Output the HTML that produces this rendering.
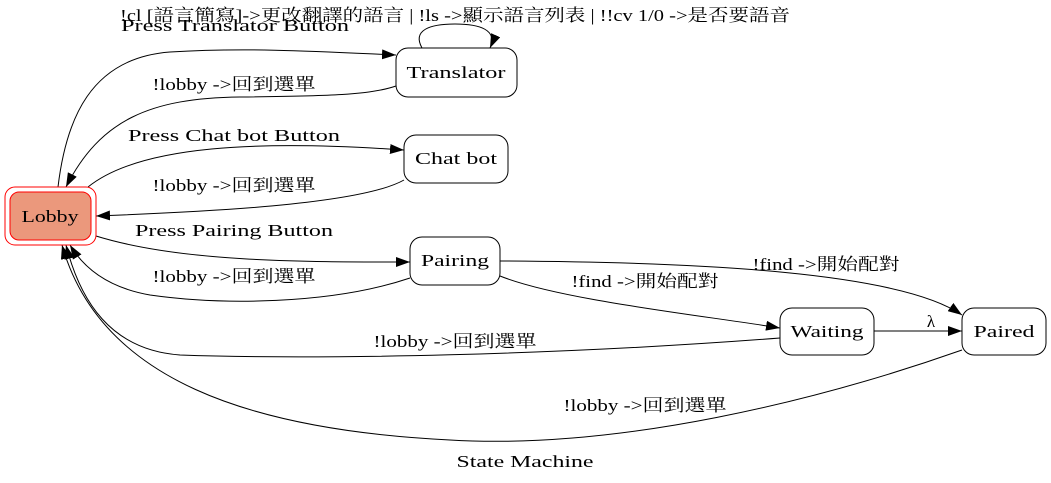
<!DOCTYPE html>
<html><head><meta charset="utf-8"><style>
html,body{margin:0;padding:0;background:#fff;}
svg{display:block;}
text{font-family:"Liberation Serif","Noto Serif CJK SC","Noto Sans CJK TC",serif;font-size:17px;fill:#000;}
</style></head><body>
<svg width="1051" height="483" viewBox="0 0 1051 483" xmlns="http://www.w3.org/2000/svg">
<defs>
<marker id="a" markerWidth="14" markerHeight="10" refX="14" refY="5" orient="auto" markerUnits="userSpaceOnUse">
<path d="M0,0 L14,5 L0,10 Z" fill="#000"/>
</marker>
</defs>
<g fill="none" stroke="#000" stroke-width="1">
<path d="M58,187 C66,120 90,58 170,52 C250,47 330,52 396,55" marker-end="url(#a)"/>
<path d="M422,48 C412,30 430,24 455,24 C480,24 498,30 490,48" marker-end="url(#a)"/>
<path d="M396,86 C370,95 330,96 240,97 C150,98 100,120 66,187" marker-end="url(#a)"/>
<path d="M88,187 C140,145 260,140 404,150" marker-end="url(#a)"/>
<path d="M404,180 C360,205 200,212 96,216" marker-end="url(#a)"/>
<path d="M96,236 C180,262 300,262 410,262" marker-end="url(#a)"/>
<path d="M410,278 C330,305 220,305 150,295 C110,288 85,270 70,245" marker-end="url(#a)"/>
<path d="M500,261 C700,262 900,272 962,315" marker-end="url(#a)"/>
<path d="M500,276 C560,300 700,315 780,328" marker-end="url(#a)"/>
<path d="M780,338 C560,355 320,360 180,355 C110,350 80,300 66,245" marker-end="url(#a)"/>
<path d="M874,331 L962,331" marker-end="url(#a)"/>
<path d="M962,350 C820,400 620,450 450,440 C250,430 100,380 62,245" marker-end="url(#a)"/>
</g>
<rect x="5" y="187" width="91" height="58" rx="10" fill="none" stroke="#ff0000"/>
<rect x="10" y="192" width="81" height="48" rx="9" fill="#eb987c" stroke="#ff0000"/>
<g fill="#fff" stroke="#000">
<rect x="396" y="48" width="121" height="49" rx="12"/>
<rect x="404" y="135" width="104" height="48" rx="12"/>
<rect x="410" y="237" width="90" height="48" rx="12"/>
<rect x="780" y="308" width="94" height="47" rx="12"/>
<rect x="962" y="308" width="84" height="47" rx="12"/>
</g>
<g text-anchor="middle">
<text x="50" y="222" textLength="57" lengthAdjust="spacingAndGlyphs">Lobby</text>
<text x="456" y="78" textLength="99" lengthAdjust="spacingAndGlyphs">Translator</text>
<text x="456" y="164" textLength="82" lengthAdjust="spacingAndGlyphs">Chat bot</text>
<text x="455" y="266" textLength="68" lengthAdjust="spacingAndGlyphs">Pairing</text>
<text x="827" y="337" textLength="73" lengthAdjust="spacingAndGlyphs">Waiting</text>
<text x="1004" y="337" textLength="61" lengthAdjust="spacingAndGlyphs">Paired</text>
<text x="455" y="21" textLength="670" lengthAdjust="spacingAndGlyphs">!cl [語言簡寫]->更改翻譯的語言 | !ls ->顯示語言列表 | !!cv 1/0 ->是否要語音</text>
<text x="235" y="31" textLength="228" lengthAdjust="spacingAndGlyphs">Press Translator Button</text>
<text x="234" y="90" textLength="163" lengthAdjust="spacingAndGlyphs">!lobby ->回到選單</text>
<text x="234" y="141" textLength="212" lengthAdjust="spacingAndGlyphs">Press Chat bot Button</text>
<text x="234" y="191" textLength="163" lengthAdjust="spacingAndGlyphs">!lobby ->回到選單</text>
<text x="234" y="236" textLength="198" lengthAdjust="spacingAndGlyphs">Press Pairing Button</text>
<text x="234" y="282" textLength="163" lengthAdjust="spacingAndGlyphs">!lobby ->回到選單</text>
<text x="826" y="270" textLength="147" lengthAdjust="spacingAndGlyphs">!find ->開始配對</text>
<text x="645" y="287" textLength="147" lengthAdjust="spacingAndGlyphs">!find ->開始配對</text>
<text x="455" y="347" textLength="163" lengthAdjust="spacingAndGlyphs">!lobby ->回到選單</text>
<text x="931" y="327">λ</text>
<text x="645" y="411" textLength="163" lengthAdjust="spacingAndGlyphs">!lobby ->回到選單</text>
<text x="525" y="467" textLength="137" lengthAdjust="spacingAndGlyphs">State Machine</text>
</g>
</svg>
</body></html>
